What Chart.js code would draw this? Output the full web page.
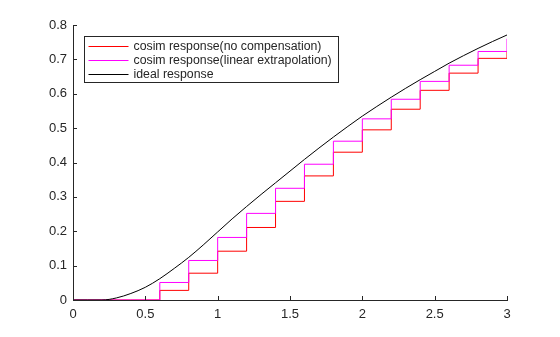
<!DOCTYPE html>
<html>
<head>
<meta charset="utf-8">
<script src="https://cdn.jsdelivr.net/npm/chart.js@4.4.0/dist/chart.umd.min.js"></script>
<style>
  html, body { margin: 0; padding: 0; background: #fff; }
  #wrap { width: 560px; height: 337px; }
</style>
</head>
<body>
<div id="wrap"><canvas id="stepChart" width="560" height="337"></canvas></div>
<script>
// sample instants of the cosimulation (s)
const sampleTimes = [0, 0.2, 0.4, 0.6, 0.8, 1.0, 1.2, 1.4, 1.6, 1.8, 2.0, 2.2, 2.4, 2.6, 2.8, 3.0];
const noCompensation = [0, 0, 0, 0.028, 0.078, 0.142, 0.211, 0.287, 0.361, 0.430, 0.495, 0.555, 0.610, 0.660, 0.703, 0.723];
const linearExtrap = [0, 0, 0, 0.051, 0.115, 0.182, 0.252, 0.325, 0.395, 0.462, 0.527, 0.584, 0.636, 0.683, 0.723, 0.760];

// ideal (continuous) response
const idealTimes = [0, 0.1, 0.2, 0.3, 0.4, 0.5, 0.6, 0.7, 0.8, 0.9, 1.0, 1.1, 1.2, 1.3, 1.4, 1.5,
    1.6, 1.7, 1.8, 1.9, 2.0, 2.1, 2.2, 2.3, 2.4, 2.5, 2.6, 2.7, 2.8, 2.9, 3.0];
const idealValues = [0, 0, 0, 0.006, 0.019, 0.037, 0.062, 0.092, 0.124, 0.160, 0.198, 0.236, 0.272, 0.307, 0.341, 0.375,
    0.409, 0.442, 0.474, 0.505, 0.535, 0.563, 0.590, 0.616, 0.641, 0.665, 0.689, 0.711, 0.732, 0.752, 0.771];

const seriesLabels = ['cosim response(no compensation)', 'cosim response(linear extrapolation)', 'ideal response'];
const seriesColors = ['#ff0000', '#ff00ff', '#000000'];

const xTicks = [0, 0.5, 1, 1.5, 2, 2.5, 3];
const yTicks = [0, 0.1, 0.2, 0.3, 0.4, 0.5, 0.6, 0.7, 0.8];

const axisColor = '#262626';
const fontFamily = '"Liberation Sans", Arial, sans-serif';

function toPoints(xs, ys) {
    return xs.map((x, i) => ({ x: x, y: ys[i] }));
}

// inward tick marks, like the original plot
const innerTicks = {
    id: 'innerTicks',
    afterDraw(chart) {
        const ctx = chart.ctx;
        const area = chart.chartArea;
        const xs = chart.scales.x;
        const ys = chart.scales.y;
        ctx.save();
        ctx.strokeStyle = axisColor;
        ctx.lineWidth = 1;
        ctx.beginPath();
        xTicks.forEach(v => {
            const px = Math.round(xs.getPixelForValue(v)) + 0.5;
            ctx.moveTo(px, area.bottom);
            ctx.lineTo(px, area.bottom - 4);
        });
        yTicks.forEach(v => {
            const py = Math.round(ys.getPixelForValue(v)) + 0.5;
            ctx.moveTo(area.left, py);
            ctx.lineTo(area.left + 4, py);
        });
        ctx.stroke();
        ctx.restore();
    }
};

// boxed legend inside the plot area
const boxLegend = {
    id: 'boxLegend',
    afterDraw(chart) {
        const ctx = chart.ctx;
        const area = chart.chartArea;
        const left = Math.round(area.left) + 11.5;
        const top = Math.round(area.top) + 11.5;
        const w = 254, h = 46, rowH = 14;
        ctx.save();
        ctx.fillStyle = '#fff';
        ctx.fillRect(left, top, w, h);
        ctx.strokeStyle = axisColor;
        ctx.lineWidth = 1;
        ctx.strokeRect(left, top, w, h);
        ctx.font = '12.3px ' + fontFamily;
        ctx.textBaseline = 'middle';
        seriesLabels.forEach((label, i) => {
            const y = Math.round(top + 9 + i * rowH) + 0.5;
            ctx.strokeStyle = seriesColors[i];
            ctx.beginPath();
            ctx.moveTo(left + 4, y);
            ctx.lineTo(left + 44, y);
            ctx.stroke();
            ctx.fillStyle = axisColor;
            ctx.fillText(label, left + 49, y);
        });
        ctx.restore();
    }
};

const ctx = document.getElementById('stepChart').getContext('2d');
window.stepChart = new Chart(ctx, {
    type: 'line',
    data: {
        datasets: [{
                label: seriesLabels[0],
                data: toPoints(sampleTimes, noCompensation),
                borderColor: seriesColors[0],
                borderWidth: 1,
                pointRadius: 0,
                stepped: true,
                fill: false,
                order: 3
            },
            {
                label: seriesLabels[1],
                data: toPoints(sampleTimes, linearExtrap),
                borderColor: seriesColors[1],
                borderWidth: 1,
                pointRadius: 0,
                stepped: true,
                fill: false,
                order: 2
            },
            {
                label: seriesLabels[2],
                data: toPoints(idealTimes, idealValues),
                borderColor: seriesColors[2],
                borderWidth: 1,
                pointRadius: 0,
                cubicInterpolationMode: 'monotone',
                fill: false,
                order: 1
            }
        ]
    },
    options: {
        responsive: false,
        animation: false,
        devicePixelRatio: 1,
        layout: {
            padding: { top: 25, right: 53, left: 0, bottom: 0 }
        },
        plugins: {
            legend: { display: false },
            tooltip: { enabled: false }
        },
        scales: {
            x: {
                type: 'linear',
                min: 0,
                max: 3,
                afterFit: scale => { scale.height = 37; },
                afterBuildTicks: scale => { scale.ticks = xTicks.map(v => ({ value: v })); },
                grid: { display: false, drawTicks: false },
                border: { display: true, color: axisColor, width: 1 },
                ticks: {
                    padding: 7,
                    maxRotation: 0,
                    color: axisColor,
                    font: { family: fontFamily, size: 13 },
                    callback: v => String(v)
                }
            },
            y: {
                type: 'linear',
                min: 0,
                max: 0.8,
                afterFit: scale => { scale.width = 73; },
                afterBuildTicks: scale => { scale.ticks = yTicks.map(v => ({ value: v })); },
                grid: { display: false, drawTicks: false },
                border: { display: true, color: axisColor, width: 1 },
                ticks: {
                    padding: 6,
                    color: axisColor,
                    font: { family: fontFamily, size: 13 },
                    callback: v => String(v)
                }
            }
        }
    },
    plugins: [innerTicks, boxLegend]
});
</script>
</body>
</html>
